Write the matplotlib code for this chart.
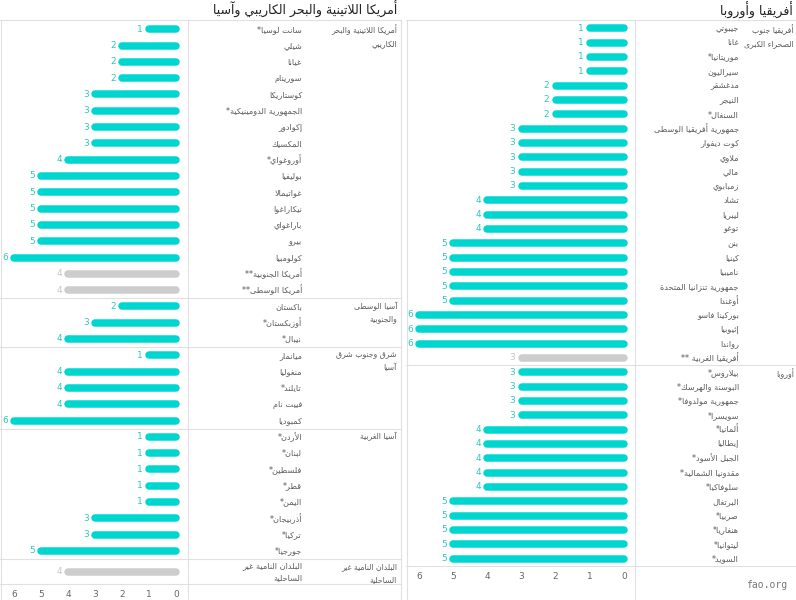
"""Arabic bar chart: number of ... per country, two panels (RTL layout)."""
import matplotlib
matplotlib.use("Agg")
import matplotlib.pyplot as plt
from matplotlib.lines import Line2D
from matplotlib.transforms import blended_transform_factory
import numpy as np

plt.rcParams["font.family"] = ["DejaVu Sans"]

# --- data -------------------------------------------------------------------
# right panel: Africa and Europe
title_right = "أفريقيا وأوروبا"
africa_region = "أفريقيا جنوب\nالصحراء الكبرى"
africa_names = ["جيبوتي", "غانا", "موريتانيا*", "سيراليون", "مدغشقر", "النيجر",
                "السنغال*", "جمهورية أفريقيا الوسطى", "كوت ديفوار", "ملاوي", "مالي",
                "زمبابوي", "تشاد", "ليبريا", "توغو", "بنن", "كينيا", "ناميبيا",
                "جمهورية تنزانيا المتحدة", "أوغندا", "بوركينا فاسو", "إثيوبيا",
                "رواندا", "أفريقيا الغربية **"]
africa_values = [1, 1, 1, 1, 2, 2, 2, 3, 3, 3, 3, 3, 4, 4, 4, 5, 5, 5, 5, 5, 6, 6, 6, 3]

europe_region = "أوروبا"
europe_names = ["بيلاروس*", "البوسنة والهرسك*", "جمهورية مولدوفا*", "سويسرا*",
                "ألمانيا*", "إيطاليا", "الجبل الأسود*", "مقدونيا الشمالية*",
                "سلوفاكيا*", "البرتغال", "صربيا*", "هنغاريا*", "ليتوانيا*", "السويد*"]
europe_values = [3, 3, 3, 3, 4, 4, 4, 4, 4, 5, 5, 5, 5, 5]

# left panel: Latin America & Caribbean and Asia
title_left = "أمريكا اللاتينية والبحر الكاريبي وآسيا"
lac_region = "أمريكا اللاتينية والبحر\nالكاريبي"
lac_names = ["سانت لوسيا*", "شيلي", "غيانا", "سورينام", "كوستاريكا",
             "الجمهورية الدومينيكية*", "إكوادور", "المكسيك", "أوروغواي*", "بوليفيا",
             "غواتيمالا", "نيكاراغوا", "باراغواي", "بيرو", "كولومبيا",
             "أمريكا الجنوبية**", "أمريكا الوسطى**"]
lac_values = [1, 2, 2, 2, 3, 3, 3, 3, 4, 5, 5, 5, 5, 5, 6, 4, 4]

csa_region = "آسيا الوسطى\nوالجنوبية"
csa_names = ["باكستان", "أوزبكستان*", "نيبال*"]
csa_values = [2, 3, 4]

esea_region = "شرق وجنوب شرق\nآسيا"
esea_names = ["ميانمار", "منغوليا", "تايلند*", "فييت نام", "كمبوديا"]
esea_values = [1, 4, 4, 4, 6]

wa_region = "آسيا الغربية"
wa_names = ["الأردن*", "لبنان*", "فلسطين*", "قطر*", "اليمن*", "أذربيجان*", "تركيا*", "جورجيا*"]
wa_values = [1, 1, 1, 1, 1, 3, 3, 5]

lldc_region = "البلدان النامية غير\nالساحلية"
lldc_names = ["البلدان النامية غير\nالساحلية"]
lldc_values = [4]

# regional aggregates are drawn in grey
aggregates = {"أفريقيا الغربية **", "أمريكا الجنوبية**", "أمريكا الوسطى**",
              "البلدان النامية غير\nالساحلية"}

# --- minimal Arabic shaping (matplotlib has no bidi / joining support) -------
_LETTERS = "ءآأؤإئابةتثجحخدذرزسشصضطظعغفقكلمنهوىي"
_COUNTS = [1, 2, 2, 2, 2, 4, 2, 4, 2, 4, 4, 4, 4, 4, 2, 2, 2, 2, 4, 4, 4, 4,
           4, 4, 4, 4, 4, 4, 4, 4, 4, 4, 4, 2, 2, 4]
JOIN = {}
_cp = 0xFE80
for _ch, _n in zip(_LETTERS, _COUNTS):
    JOIN[_ch] = (_cp, _n)
    _cp += _n
LAM_ALEF = {"آ": 0xFEF5, "أ": 0xFEF7, "إ": 0xFEF9, "ا": 0xFEFB}


def _shape_line(s):
    out = []
    i = 0
    while i < len(s):
        c = s[i]
        if c not in JOIN:
            out.append(c)
            i += 1
            continue
        prev = s[i - 1] if i > 0 else ""
        link_prev = prev in JOIN and JOIN[prev][1] == 4 and JOIN[c][1] >= 2
        if c == "ل" and i + 1 < len(s) and s[i + 1] in LAM_ALEF:
            out.append(chr(LAM_ALEF[s[i + 1]] + (1 if link_prev else 0)))
            i += 2
            continue
        nxt = s[i + 1] if i + 1 < len(s) else ""
        base, cnt = JOIN[c]
        link_next = cnt == 4 and nxt in JOIN and JOIN[nxt][1] >= 2
        if cnt == 1:
            form = 0
        elif link_prev and link_next:
            form = 3
        elif link_next:
            form = 2
        elif link_prev:
            form = 1
        else:
            form = 0
        out.append(chr(base + form))
        i += 1
    return "".join(out)[::-1]


def ar(s):
    return "\n".join(_shape_line(line) for line in s.split("\n"))


# --- style ------------------------------------------------------------------
W, H = 796, 600
TEAL = "#00d6d0"
TEAL_TXT = "#2cc8c3"
GREY_BAR = "#cdcdcd"
GREY_TXT = "#c6c6c6"
LINE = "#e0e0e0"
LABEL = "#5c5c5c"
FS = 5.9       # country labels
FS_REG = 5.6   # region labels
FS_NUM = 6.5   # value and tick labels
BAR_LW = 5.4

fig = plt.figure(figsize=(W / 100, H / 100), dpi=100)


def draw_panel(lay, title, groups):
    names, vals, heights, starts = [], [], [], []
    for region, gnames, gvals in groups:
        starts.append(len(names))
        for n, v in zip(gnames, gvals):
            names.append(n)
            vals.append(v)
            heights.append(lay["tall"] if "\n" in n else 1.0)
    heights = np.array(heights)
    edges = np.concatenate([[0], np.cumsum(heights)]) - 0.5
    centers = edges[:-1] + heights / 2

    unit = (lay["zero"] - lay["six"]) / 6
    y_top = (lay["top"] - lay["row0"]) / lay["row_h"]
    y_bot = edges[-1]
    bot_px = lay["row0"] + y_bot * lay["row_h"]

    ax = fig.add_axes([lay["x0"] / W, 1 - bot_px / H,
                       (lay["bar_r"] - lay["x0"]) / W, (bot_px - lay["top"]) / H])
    ax.set_xlim((lay["zero"] - lay["x0"]) / unit, (lay["zero"] - lay["bar_r"]) / unit)
    ax.set_ylim(y_bot, y_top)
    for s in ax.spines.values():
        s.set_visible(False)
    ax.set_yticks([])
    ax.set_xticks(range(7))
    ax.tick_params(axis="x", length=0, pad=lay["pad"], labelsize=FS_NUM, labelcolor="#666666")
    ax.patch.set_alpha(0)

    blend = blended_transform_factory(fig.transFigure, ax.transData)
    for y, n, v in zip(centers, names, vals):
        grey = n in aggregates
        ax.plot([0, v], [y, y], color=GREY_BAR if grey else TEAL, lw=BAR_LW,
                solid_capstyle="round", clip_on=False)
        ax.annotate(str(v), (v, y), xytext=(-4.5, 0), textcoords="offset points",
                    ha="right", va="center", fontsize=FS_NUM,
                    color=GREY_TXT if grey else TEAL_TXT)
        ax.text(lay["lab_x"] / W, y, ar(n), transform=blend, ha="right", va="center",
                fontsize=FS, color=LABEL, linespacing=1.45)

    for (region, _, _), s in zip(groups, starts):
        ax.annotate(ar(region), (lay["reg_x"] / W, edges[s]), xycoords=blend,
                    xytext=(0, -2.5), textcoords="offset points", ha="right", va="top",
                    fontsize=FS_REG, color=LABEL, linespacing=1.5)
        if s > 0:
            ax.plot([lay["x0"] / W, lay["x1"] / W], [edges[s]] * 2, transform=blend,
                    color=LINE, lw=0.8, clip_on=False)
    ax.plot([lay["x0"] / W, lay["x1"] / W], [y_bot] * 2, transform=blend,
            color=LINE, lw=0.8, clip_on=False)

    # frame
    ty = 1 - lay["top"] / H
    fig.add_artist(Line2D([lay["x0"] / W, lay["x1"] / W], [ty, ty], color=LINE, lw=0.8))
    for xp in (lay["x0"] + 0.5, lay["bar_r"], lay["x1"] - 0.5):
        fig.add_artist(Line2D([xp / W, xp / W], [0, ty], color=LINE, lw=0.8))
    fig.text(lay["x1"] / W - 4 / W, 1 - lay["title_y"] / H, ar(title), ha="right",
             va="center", fontsize=9, color="#222222")


left_layout = dict(x0=0, x1=401, bar_r=188, zero=176, six=14, top=20, row0=29.3,
                   row_h=16.3, tall=1.55, lab_x=302, reg_x=397, title_y=9, pad=4.2)
right_layout = dict(x0=406, x1=797, bar_r=635, zero=624, six=419, top=20, row0=28.3,
                    row_h=14.33, tall=1.55, lab_x=739, reg_x=794, title_y=10, pad=4.5)

draw_panel(left_layout, title_left,
           [(lac_region, lac_names, lac_values),
            (csa_region, csa_names, csa_values),
            (esea_region, esea_names, esea_values),
            (wa_region, wa_names, wa_values),
            (lldc_region, lldc_names, lldc_values)])
draw_panel(right_layout, title_right,
           [(africa_region, africa_names, africa_values),
            (europe_region, europe_names, europe_values)])

fig.text(787 / W, 1 - 585 / H, "fao.org", ha="right", va="center",
         fontsize=7, color="#777777", family="DejaVu Sans Mono")

fig.savefig("out.png", dpi=100)
